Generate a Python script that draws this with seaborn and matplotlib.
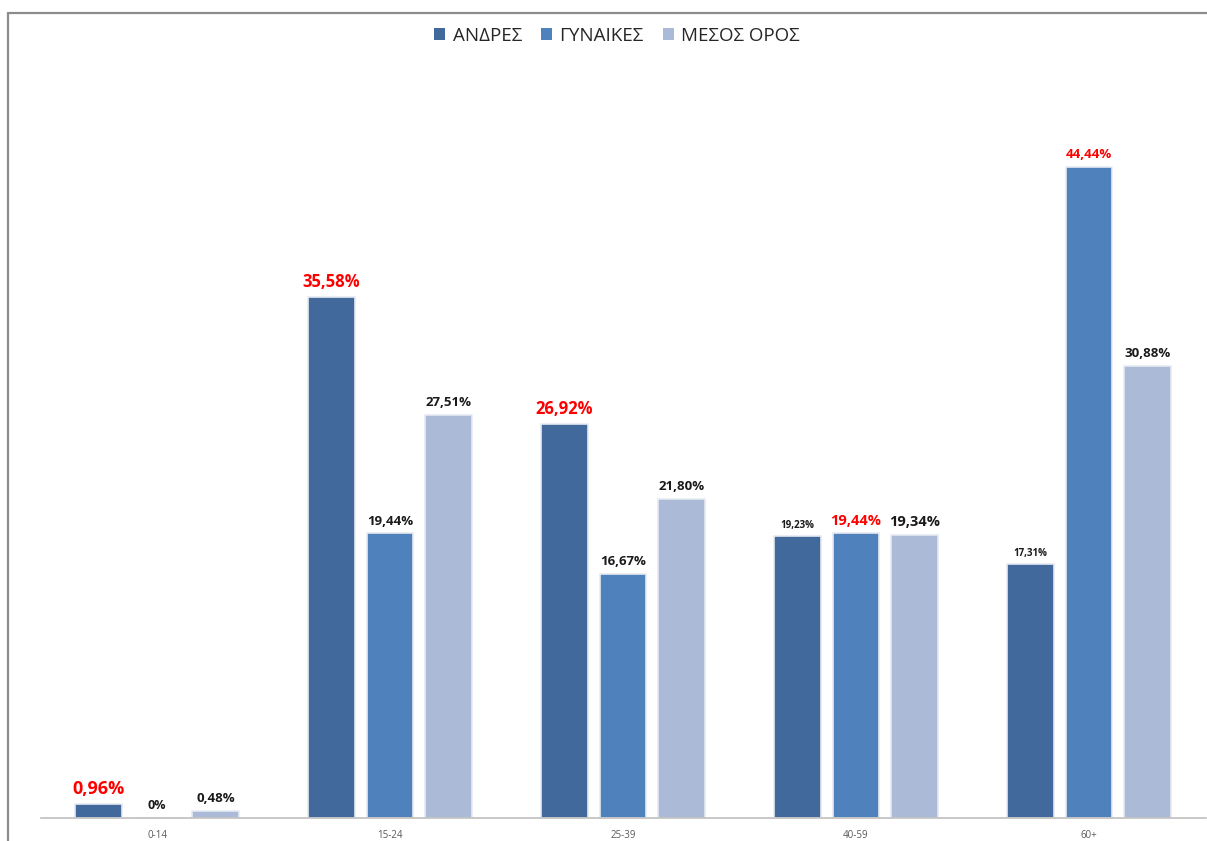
import matplotlib
matplotlib.use("Agg")
import matplotlib.pyplot as plt
from matplotlib.lines import Line2D
import seaborn as sns
import pandas as pd

# Age groups and the share of each group per series (%)
age_groups = ["0-14", "15-24", "25-39", "40-59", "60+"]
series_names = ["ΑΝΔΡΕΣ", "ΓΥΝΑΙΚΕΣ", "ΜΕΣΟΣ ΟΡΟΣ"]
andres = [0.96, 35.58, 26.92, 19.23, 17.31]
gynaikes = [0.0, 19.44, 16.67, 19.44, 44.44]
mesos_oros = [0.48, 27.51, 21.80, 19.34, 30.88]

# Text for each value label, same order as the bars (series by series)
labels_andres = ["0,96%", "35,58%", "26,92%", "19,23%", "17,31%"]
labels_gynaikes = ["0%", "19,44%", "16,67%", "19,44%", "44,44%"]
labels_mesos = ["0,48%", "27,51%", "21,80%", "19,34%", "30,88%"]

# Font size of each value label
sizes_andres = [13, 12, 12, 7, 7]
sizes_gynaikes = [9, 9.5, 9.5, 10.5, 9.5]
sizes_mesos = [9.5, 9.5, 9.5, 10.5, 9.5]

colors = ["#41699B", "#4F81BD", "#AABAD7"]

df = pd.DataFrame({
    "age": age_groups * 3,
    "series": [s for s in series_names for _ in age_groups],
    "value": andres + gynaikes + mesos_oros,
})

sns.set_theme(style="white")
plt.rcParams["font.family"] = ["Open Sans", "DejaVu Sans"]

fig = plt.figure(figsize=(12.07, 8.41), dpi=100)
ax = fig.add_axes([40.5 / 1207, (841 - 818) / 841, 1165 / 1207, 732.5 / 841])

sns.barplot(data=df, x="age", y="value", hue="series", order=age_groups,
            hue_order=series_names, palette=colors, width=0.753, gap=0.21,
            edgecolor="#e6eaf1", linewidth=1.2, saturation=1, legend=True, ax=ax)

ax.set_xlim(-0.5, 4.5)
ax.set_ylim(0, 50)
ax.set_xlabel("")
ax.set_ylabel("")
ax.set_yticks([])
for side in ["left", "right", "top"]:
    ax.spines[side].set_visible(False)
ax.spines["bottom"].set_color("#bfbfbf")
ax.spines["bottom"].set_linewidth(1.2)
ax.tick_params(axis="x", length=0, pad=9, labelsize=7, labelcolor="#595959")

# Value labels above each bar; the largest value of each age group in red
all_vals = [andres, gynaikes, mesos_oros]
all_labels = [labels_andres, labels_gynaikes, labels_mesos]
all_sizes = [sizes_andres, sizes_gynaikes, sizes_mesos]
slot = 0.753 / 3
for s_idx in range(3):
    for g_idx in range(len(age_groups)):
        v = all_vals[s_idx][g_idx]
        group_max = max(all_vals[k][g_idx] for k in range(3))
        color = "#FF0000" if v == group_max else "#1a1a1a"
        x = g_idx + (s_idx - 1) * slot
        ax.annotate(all_labels[s_idx][g_idx], xy=(x, v), xytext=(0, 4),
                    textcoords="offset points", ha="center", va="bottom",
                    fontsize=all_sizes[s_idx][g_idx], fontweight="bold",
                    color=color)

# Legend across the top
handles = [plt.Rectangle((0, 0), 1, 1, facecolor=c, edgecolor="none") for c in colors]
ax.legend(handles, series_names, loc="center", bbox_to_anchor=(617 / 1207, 1 - 36 / 841),
          bbox_transform=fig.transFigure, ncol=3, frameon=False, fontsize=13.5,
          handlelength=0.6, handleheight=0.6, handletextpad=0.4, columnspacing=1.0,
          labelcolor="#262626")

# Outer chart frame (top and left edges)
fig.add_artist(Line2D([8 / 1207, 8 / 1207], [0, 1 - 13 / 841], transform=fig.transFigure,
                      color="#8c8c8c", linewidth=1.6))
fig.add_artist(Line2D([8 / 1207, 1], [1 - 13 / 841, 1 - 13 / 841], transform=fig.transFigure,
                      color="#8c8c8c", linewidth=1.6))

fig.savefig("out.png", dpi=100)
